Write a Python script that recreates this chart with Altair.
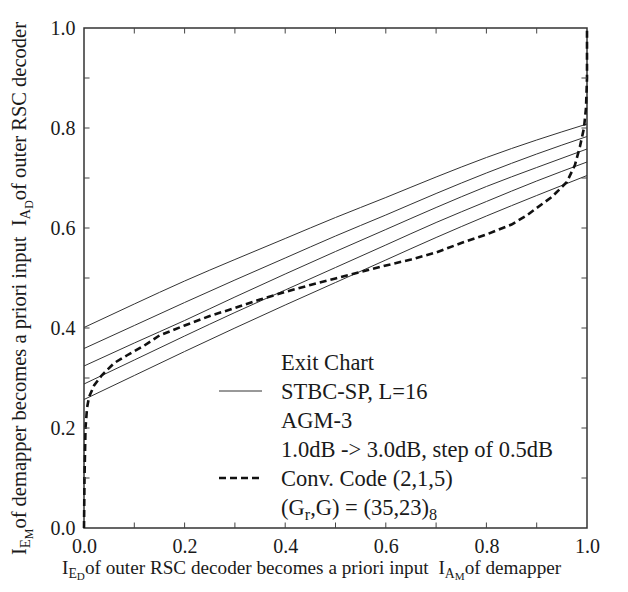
import altair as alt
import pandas as pd

# ---------------- data ----------------
x_grid = [0.0, 0.1, 0.2, 0.3, 0.4, 0.5, 0.6, 0.7, 0.8, 0.9, 1.0]
snr_labels = ["3.0dB", "2.5dB", "2.0dB", "1.5dB", "1.0dB"]
stbc_30 = [0.401, 0.448, 0.494, 0.537, 0.579, 0.621, 0.661, 0.702, 0.741, 0.776, 0.808]
stbc_25 = [0.359, 0.405, 0.451, 0.496, 0.540, 0.584, 0.626, 0.669, 0.710, 0.748, 0.783]
stbc_20 = [0.324, 0.370, 0.415, 0.462, 0.508, 0.553, 0.597, 0.641, 0.683, 0.721, 0.758]
stbc_15 = [0.288, 0.336, 0.384, 0.431, 0.476, 0.521, 0.566, 0.611, 0.653, 0.694, 0.732]
stbc_10 = [0.257, 0.305, 0.353, 0.400, 0.446, 0.491, 0.536, 0.581, 0.624, 0.665, 0.705]

conv_x = [0.0, 0.001, 0.003, 0.006, 0.01, 0.02, 0.035, 0.06, 0.085, 0.12, 0.15, 0.2, 0.25,
          0.3, 0.35, 0.4, 0.45, 0.5, 0.55, 0.6, 0.65, 0.7, 0.75, 0.8, 0.85, 0.88, 0.9,
          0.93, 0.96, 0.976, 0.986, 0.994, 0.998, 1.0, 1.0]
conv_y = [0.0, 0.10, 0.20, 0.24, 0.262, 0.285, 0.305, 0.330, 0.345, 0.365, 0.385, 0.405, 0.424,
          0.440, 0.457, 0.472, 0.486, 0.499, 0.512, 0.525, 0.537, 0.551, 0.570, 0.587, 0.607, 0.625, 0.640,
          0.662, 0.692, 0.726, 0.763, 0.800, 0.840, 0.900, 1.0]

tick_vals = [0.1, 0.2, 0.3, 0.4, 0.5, 0.6, 0.7, 0.8, 0.9]
label_vals = [0.0, 0.2, 0.4, 0.6, 0.8, 1.0]

legend_rows = ["Exit Chart", "STBC-SP, L=16", "AGM-3",
               "1.0dB -> 3.0dB, step of 0.5dB", "Conv. Code (2,1,5)"]

# ---------------- build tables ----------------
rows = []
for lab, ys in zip(snr_labels, [stbc_30, stbc_25, stbc_20, stbc_15, stbc_10]):
    for xv, yv in zip(x_grid, ys):
        rows.append({"snr": lab, "x": xv, "y": yv})
stbc_df = pd.DataFrame(rows)
conv_df = pd.DataFrame({"x": conv_x, "y": conv_y, "i": list(range(len(conv_x)))})
tick_df = pd.DataFrame({"v": tick_vals})
one = pd.DataFrame({"a": [0]})

FONT = "Liberation Serif"
TXT = "#1a1a1a"
W, H = 503, 500

xs = alt.Scale(domain=[0, 1], nice=False, zero=False)
ys = alt.Scale(domain=[0, 1], nice=False, zero=False)
ax_x = alt.Axis(values=label_vals, format=".1f", ticks=False, domain=False, grid=False,
                title=None, labelFont=FONT, labelFontSize=20, labelColor=TXT,
                labelPadding=8, labelFlush=False)
ax_y = alt.Axis(values=label_vals, format=".1f", ticks=False, domain=False, grid=False,
                title=None, labelFont=FONT, labelFontSize=20, labelColor=TXT,
                labelPadding=9, labelFlush=False)

solid = alt.Chart(stbc_df).mark_line(color="#333333", strokeWidth=1, interpolate="monotone").encode(
    x=alt.X("x:Q", scale=xs, axis=ax_x),
    y=alt.Y("y:Q", scale=ys, axis=ax_y),
    detail="snr:N",
)
dashed = alt.Chart(conv_df).mark_line(color="#111111", strokeWidth=2.6, strokeDash=[7, 4]).encode(
    x=alt.X("x:Q", scale=xs, axis=ax_x),
    y=alt.Y("y:Q", scale=ys, axis=ax_y),
    order="i:Q",
)

tk = dict(color="#444444", strokeWidth=1)
t_bottom = alt.Chart(tick_df).mark_rule(**tk).encode(
    x=alt.X("v:Q", scale=xs, axis=ax_x), y=alt.datum(0), y2=alt.datum(0.011))
t_top = alt.Chart(tick_df).mark_rule(**tk).encode(
    x=alt.X("v:Q", scale=xs, axis=ax_x), y=alt.datum(0.989), y2=alt.datum(1.0))
t_left = alt.Chart(tick_df).mark_rule(**tk).encode(
    y=alt.Y("v:Q", scale=ys, axis=ax_y), x=alt.datum(0), x2=alt.datum(0.011))
t_right = alt.Chart(tick_df).mark_rule(**tk).encode(
    y=alt.Y("v:Q", scale=ys, axis=ax_y), x=alt.datum(0.989), x2=alt.datum(1.0))

# ---------------- text helpers (Times metrics) ----------------
CW = {' ': 250, 'a': 444, 'b': 500, 'c': 444, 'd': 500, 'e': 444, 'f': 333, 'g': 500, 'h': 500,
      'i': 278, 'j': 278, 'k': 500, 'l': 278, 'm': 778, 'n': 500, 'o': 500, 'p': 500, 'q': 500,
      'r': 333, 's': 389, 't': 278, 'u': 500, 'v': 500, 'w': 722, 'x': 500, 'y': 500, 'z': 444,
      'A': 722, 'B': 667, 'C': 667, 'D': 722, 'E': 611, 'G': 722, 'I': 333, 'L': 611, 'M': 889,
      'P': 556, 'R': 667, 'S': 556, 'T': 611, ',': 250, '.': 250, '(': 333, ')': 333,
      '=': 564, '>': 564, '-': 333}


def tw(s, size):
    return sum(CW.get(c, 500) for c in s) * size / 1000.0


def piece(text, x, y, size, angle=0):
    return alt.Chart(one).mark_text(
        text=text, font=FONT, fontSize=size, color=TXT, align="left",
        baseline="alphabetic", angle=angle,
    ).encode(x=alt.value(x), y=alt.value(y))


def rich(parts, x0, y0, f, vertical=False):
    sizes = [f, f * 0.72, f * 0.58]
    shifts = [0, f * 0.20, f * 0.33]
    out = []
    off = 0.0
    for text, lvl in parts:
        s = sizes[lvl]
        if vertical:
            out.append(piece(text, x0 + shifts[lvl], y0 - off, s, angle=270))
        else:
            out.append(piece(text, x0 + off, y0 + shifts[lvl], s))
        off += tw(text, s)
    return out


x_title = rich([("I", 0), ("E", 1), ("D", 2), (" of outer RSC decoder becomes a priori input ", 0),
                ("I", 0), ("A", 1), ("M", 2), (" of demapper", 0)], -22, 546, 19.2)
y_title = rich([("I", 0), ("E", 1), ("M", 2), (" of demapper becomes a priori input ", 0),
                ("I", 0), ("A", 1), ("D", 2), (" of outer RSC decoder", 0)], -58, 527, 20.5,
               vertical=True)

LF = 22.5
lx = 197
base = [342, 371, 400, 429, 458, 487]
legend = [piece(t, lx, b, LF) for t, b in zip(legend_rows, base[:5])]
legend += rich([("(G", 0), ("r", 1), (",G) = (35,23)", 0), ("8", 1)], lx, base[5], LF)

leg_solid = alt.Chart(one).mark_rule(color="#333333", strokeWidth=1).encode(
    x=alt.value(135), x2=alt.value(178), y=alt.value(363))
leg_dash = alt.Chart(one).mark_rule(color="#111111", strokeWidth=2.6, strokeDash=[7, 4]).encode(
    x=alt.value(135), x2=alt.value(178), y=alt.value(450))

chart = alt.layer(
    solid, dashed, t_bottom, t_top, t_left, t_right, leg_solid, leg_dash,
    *x_title, *y_title, *legend
).properties(
    width=W, height=H,
    autosize=alt.AutoSizeParams(type="none"),
    padding={"left": 76, "top": 20, "right": 33, "bottom": 56},
).configure_view(stroke="#333333", strokeWidth=1.5)

chart.save("out.html", embed_options={"renderer": "svg", "actions": False})
